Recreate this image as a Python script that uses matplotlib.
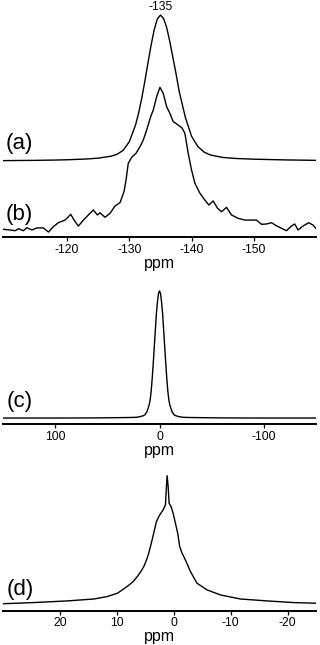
"""
Stacked NMR spectra: (a)/(b) around -135 ppm, (c) wide sweep, (d) narrow sweep.
"""

import matplotlib

matplotlib.use("Agg")
import matplotlib.pyplot as plt

plt.rcParams["font.family"] = ["Liberation Sans", "DejaVu Sans"]

# (a) smooth line, normalised to its maximum
ppm_a = [-109.7, -112, -115, -118, -120, -123, -125, -127, -128, -129, -130,
         -131, -131.5, -132, -132.5, -133, -133.5, -134, -134.5, -135,
         -135.5, -136, -136.5, -137, -137.5, -138, -138.5, -139, -140, -141,
         -142, -143, -145, -147, -150, -155, -160]
int_a = [0.003, 0.004, 0.005, 0.007, 0.009, 0.014, 0.020, 0.033, 0.046, 0.073,
         0.133, 0.247, 0.33, 0.431, 0.548, 0.673, 0.794, 0.90, 0.973, 1.0,
         0.977, 0.915, 0.82, 0.71, 0.60, 0.48, 0.39, 0.30, 0.17, 0.10,
         0.062, 0.042, 0.025, 0.018, 0.013, 0.008, 0.005]

# (b) noisy experimental trace, same scale as (a)
ppm_b = [-109.7, -110.86, -111.66, -112.19, -112.99, -113.53, -114.34, -115.14,
         -116.2, -117.0, -117.8, -118.6, -119.68, -120.59, -121.12, -121.81,
         -122.62, -123.42, -124.22, -124.86, -125.29, -126.1, -126.9, -127.7,
         -128.5, -129.14, -129.47, -129.83, -130.38, -131.07, -131.71, -132.24,
         -132.79, -133.43, -133.85, -134.39, -134.92, -135.45, -136.0, -136.52,
         -137.05, -137.86, -138.5, -138.93, -139.46, -140.0, -140.54, -141.34,
         -142.14, -142.78, -143.47, -144.18, -144.82, -145.62, -146.42, -147.48,
         -148.56, -149.63, -150.43, -151.24, -152.04, -152.84, -153.64, -154.45,
         -155.25, -156.05, -156.58, -157.11, -157.91, -158.83, -159.52, -159.95]
int_b = [0.053, 0.048, 0.043, 0.057, 0.043, 0.064, 0.048, 0.062,
         0.062, 0.034, 0.071, 0.098, 0.116, 0.155, 0.116, 0.075,
         0.116, 0.151, 0.185, 0.151, 0.166, 0.135, 0.162, 0.212,
         0.235, 0.31, 0.39, 0.505, 0.546, 0.573, 0.618, 0.664,
         0.733, 0.824, 0.87, 0.961, 1.025, 0.984, 0.892, 0.847,
         0.79, 0.767, 0.745, 0.71, 0.573, 0.459, 0.368, 0.30,
         0.253, 0.219, 0.247, 0.197, 0.173, 0.203, 0.151, 0.128,
         0.116, 0.116, 0.116, 0.087, 0.089, 0.098, 0.077, 0.06,
         0.043, 0.075, 0.089, 0.048, 0.075, 0.098, 0.082, 0.06]

# (c) wide sweep
ppm_c = [150, 100, 60, 40, 30, 25, 22, 18, 15, 14, 12, 10, 9, 8, 7, 6, 5, 4, 3,
         2, 1, 0, -1, -2, -3, -4, -5, -6, -7, -8, -9, -10, -12, -14, -15, -18,
         -22, -25, -30, -40, -60, -100, -150]
int_c = [0.0, 0.0, 0.001, 0.003, 0.004, 0.005, 0.006, 0.012, 0.02, 0.026,
         0.05, 0.10, 0.14, 0.21, 0.31, 0.43, 0.56, 0.69, 0.82, 0.91, 0.98,
         1.0, 0.98, 0.91, 0.82, 0.69, 0.56, 0.43, 0.31, 0.21, 0.14, 0.10,
         0.05, 0.026, 0.02, 0.012, 0.006, 0.005, 0.004, 0.003, 0.001, 0.0, 0.0]

# (d) narrow sweep with sharp spike on top
ppm_d = [30, 24.6, 18.7, 14.0, 11.7, 9.9, 8.2, 7.2, 6.4, 5.8, 5.26, 4.8, 4.39,
         3.79, 3.39, 3.04, 2.46, 1.86, 1.46, 1.28, 1.16, 0.98, 0.81, 0.46, 0.11,
         -0.3, -0.7, -1.05, -1.47, -2.05, -2.93, -4.1, -5.86, -8.19, -11.7,
         -16.4, -21.05, -25]
int_d = [0.0, 0.009, 0.022, 0.037, 0.056, 0.082, 0.134, 0.17, 0.212, 0.25,
         0.29, 0.34, 0.395, 0.50, 0.576, 0.642, 0.694, 0.733, 0.772, 0.916,
         1.0, 0.916, 0.785, 0.759, 0.707, 0.629, 0.551, 0.447, 0.395, 0.342,
         0.252, 0.16, 0.108, 0.069, 0.037, 0.022, 0.009, 0.004]

ticks_ab = [-120, -130, -140, -150]
ticks_c = [100, 0, -100]
ticks_d = [20, 10, 0, -10, -20]
peak_ab = -135


def style_axis(ax, xlim, ylim, ticks):
    ax.set_xlim(*xlim)
    ax.set_ylim(*ylim)
    for side in ["top", "left", "right"]:
        ax.spines[side].set_visible(False)
    ax.spines["bottom"].set_linewidth(1.4)
    ax.set_yticks([])
    ax.set_xticks(ticks)
    ax.set_xticklabels([str(t) for t in ticks])
    ax.tick_params(axis="x", direction="out", length=3, width=0.9,
                   pad=2, labelsize=8.8)
    ax.set_xlabel("ppm", fontsize=11.5, labelpad=0)
    ax.patch.set_alpha(0)


fig = plt.figure(figsize=(3.2, 6.45), dpi=100)
left, width = 3 / 320, 313 / 320

ax1 = fig.add_axes([left, 1 - 237 / 645, width, 232 / 645])
ax1.plot(ppm_a, [0.52 + v for v in int_a], color="black", lw=1.0)
ax1.plot(ppm_b, int_b, color="black", lw=1.0)
style_axis(ax1, (-109.7, -160), (0, 1.589), ticks_ab)
ax1.text(peak_ab, 1.572, str(peak_ab), ha="center", va="center", fontsize=8.8)
ax1.text(0.0096, 0.405, "(a)", transform=ax1.transAxes, ha="left",
         va="center", fontsize=16)
ax1.text(0.0096, 0.095, "(b)", transform=ax1.transAxes, ha="left",
         va="center", fontsize=16)

ax2 = fig.add_axes([left, 1 - 424 / 645, width, 139 / 645])
ax2.plot(ppm_c, [0.047 + v for v in int_c], color="black", lw=1.0)
style_axis(ax2, (150, -150), (0, 1.094), ticks_c)
ax2.text(0.013, 0.165, "(c)", transform=ax2.transAxes, ha="left",
         va="center", fontsize=16)

ax3 = fig.add_axes([left, 1 - 610.5 / 645, width, 140.5 / 645])
ax3.plot(ppm_d, [0.053 + v for v in int_d], color="black", lw=1.0)
style_axis(ax3, (30, -25), (0, 1.098), ticks_d)
ax3.text(0.012, 0.147, "(d)", transform=ax3.transAxes, ha="left",
         va="center", fontsize=16)

fig.savefig("out.png", dpi=100)
